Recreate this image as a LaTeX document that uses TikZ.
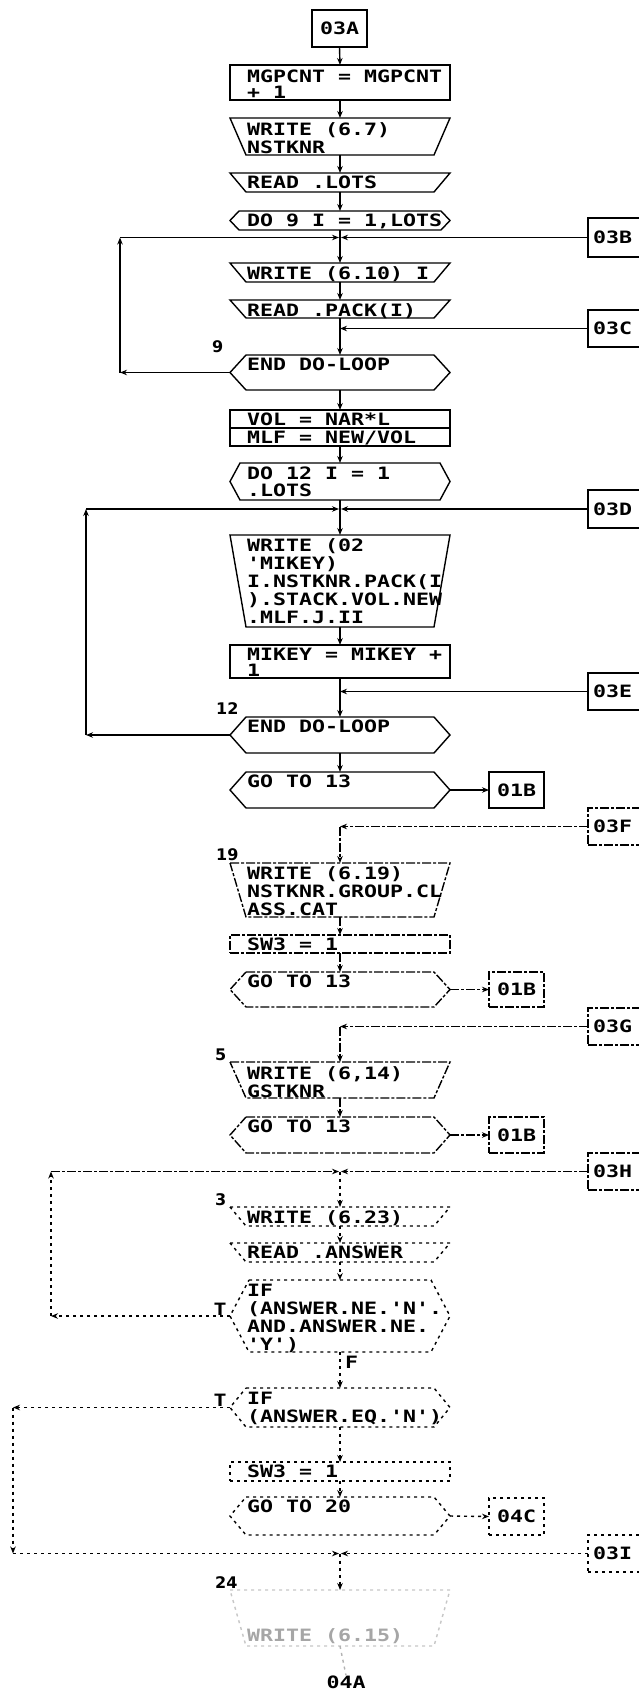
\documentclass[tikz,border=0pt]{standalone}
\usepackage{fontspec}
\usetikzlibrary{arrows.meta,calc}
\newfontfamily\plot[FakeStretch=1.27]{DejaVu Sans Mono}
\newfontfamily\lab{DejaVu Sans}
\tikzset{
 ln/.style={line width=1.4pt},
 arr/.style={ln,-{Stealth[length=7pt,width=5.5pt]}},
 sh/.style={inner sep=0pt,outer sep=0pt,minimum width=220pt},
 rbox/.style={sh,draw,ln},
 cbox/.style={inner sep=0pt,outer sep=0pt,draw,ln,minimum width=56pt,minimum height=37pt},
 obox/.style={inner sep=0pt,outer sep=0pt,draw,ln,minimum width=55pt,minimum height=36pt,font=\plot\bfseries\fontsize{17}{18}\selectfont},
 txt/.style={inner sep=0pt,align=left,anchor=north west,font=\plot\bfseries\fontsize{17}{18}\selectfont},
 ctxt/.style={inner sep=0pt,anchor=west,font=\plot\bfseries\fontsize{17}{18}\selectfont},
 lbl/.style={inner sep=0pt,anchor=south west,font=\lab\bfseries\fontsize{16}{16}\selectfont},
 low/.style={dash pattern=on 9pt off 2pt on 3pt off 2pt},
 fade/.style={dash pattern=on 3pt off 4pt},
}
\newcommand\trap[2][]{\draw[ln,#1] (#2.north west) -- (#2.north east) -- ([xshift=-16pt]#2.south east) -- ([xshift=16pt]#2.south west) -- cycle;}
\newcommand\hexa[3][]{\draw[ln,#1] ([xshift=#3]#2.north west) -- ([xshift=-#3]#2.north east) -- (#2.east) -- ([xshift=-#3]#2.south east) -- ([xshift=#3]#2.south west) -- (#2.west) -- cycle;}
\newcommand\tx[3][-4pt]{\node[txt] (#2-t) at ([xshift=17pt,yshift=#1]#2.north west) {#3};}
\begin{document}
\begin{tikzpicture}[x=1pt,y=1pt]
\useasboundingbox (0,0) rectangle (639,-1691);
\clip (0,0) rectangle (639,-1691);
% ---------- shapes ----------
\node[obox,minimum height=37pt] (a03) at (339.5,-28.5) {03A};
\node[rbox,minimum height=35pt] (mg) at (340,-82.5) {};
\tx[-5pt]{mg}{MGPCNT = MGPCNT\\[-2.5pt]+ 1}
\node[sh,minimum height=37pt] (w67) at (340,-136.5) {}; \trap{w67}
\tx{w67}{WRITE (6.7)\\NSTKNR}
\node[sh,minimum height=19pt] (rl) at (340,-182.5) {}; \trap{rl}
\tx[-3pt]{rl}{READ .LOTS}
\node[sh,minimum height=19pt] (do9) at (340,-220.5) {}; \hexa{do9}{9pt}
\tx[-3pt]{do9}{DO 9 I = 1,LOTS}
\node[sh,minimum height=19pt] (w610) at (340,-272.5) {}; \trap{w610}
\tx[-3pt]{w610}{WRITE (6.10) I}
\node[sh,minimum height=18pt] (rp) at (340,-309) {}; \trap{rp}
\tx[-3pt]{rp}{READ .PACK(I)}
\node[sh,minimum height=35pt] (e9) at (340,-372.5) {}; \hexa{e9}{16pt}
\tx[-3pt]{e9}{END DO-LOOP}
\node[rbox,minimum height=18pt] (vol) at (340,-419) {};
\tx[-3pt]{vol}{VOL = NAR*L}
\node[rbox,minimum height=18pt] (mlf) at (340,-437) {};
\tx[-3pt]{mlf}{MLF = NEW/VOL}
\node[sh,minimum height=37pt] (do12) at (340,-481.5) {}; \hexa{do12}{10pt}
\tx[-3.5pt]{do12}{DO 12 I = 1\\[-1pt].LOTS}
\node[sh,minimum height=92pt] (w02) at (340,-581) {}; \trap{w02}
\tx[-3pt]{w02}{WRITE (02\\'MIKEY)\\I.NSTKNR.PACK(I\\).STACK.VOL.NEW\\.MLF.J.II}
\node[rbox,minimum height=33pt] (mk) at (340,-661.5) {};
\tx[-3pt]{mk}{MIKEY = MIKEY +\\[-2pt]1}
\node[sh,minimum height=36pt] (e12) at (340,-735) {}; \hexa{e12}{16pt}
\tx[-3pt]{e12}{END DO-LOOP}
\node[sh,minimum height=36pt] (g1) at (340,-790) {}; \hexa{g1}{16pt}
\tx[-3pt]{g1}{GO TO 13}
\node[obox] (o1) at (516.5,-790) {01B};
% lower, faded part
\node[sh,minimum height=54pt] (w19) at (340,-890) {}; \trap[low]{w19}
\tx[-3pt]{w19}{WRITE (6.19)\\NSTKNR.GROUP.CL\\ASS.CAT}
\node[rbox,low,minimum height=18pt] (sw1) at (340,-944) {};
\tx[-3pt]{sw1}{SW3 = 1}
\node[sh,minimum height=35pt] (g2) at (340,-989.5) {}; \hexa[low]{g2}{16pt}
\tx[-3pt]{g2}{GO TO 13}
\node[obox,low,minimum height=35pt] (o2) at (516.5,-989.5) {01B};
\node[sh,minimum height=36pt] (w14) at (340,-1080) {}; \trap[low]{w14}
\tx{w14}{WRITE (6,14)\\GSTKNR}
\node[sh,minimum height=36pt] (g3) at (340,-1135) {}; \hexa[low]{g3}{16pt}
\tx[-3pt]{g3}{GO TO 13}
\node[obox,low] (o3) at (516.5,-1135) {01B};
\node[sh,minimum height=19pt] (w23) at (340,-1216.5) {}; \trap[fade]{w23}
\tx[-3pt]{w23}{WRITE (6.23)}
\node[sh,minimum height=19pt] (ra) at (340,-1252.5) {}; \trap[fade]{ra}
\tx[-3pt]{ra}{READ .ANSWER}
\node[sh,minimum height=72pt] (if1) at (340,-1316) {}; \hexa[fade]{if1}{19pt}
\tx{if1}{IF\\(ANSWER.NE.'N'.\\AND.ANSWER.NE.\\'Y')}
\node[sh,minimum height=39pt] (if2) at (340,-1407.5) {}; \hexa[fade]{if2}{16pt}
\tx{if2}{IF\\(ANSWER.EQ.'N')}
\node[rbox,fade,minimum height=19pt] (sw2) at (340,-1471.5) {};
\tx[-3pt]{sw2}{SW3 = 1}
\node[sh,minimum height=38pt] (g4) at (340,-1516) {}; \hexa[fade]{g4}{16pt}
\tx[-3pt]{g4}{GO TO 20}
\node[obox,fade,minimum height=37pt] (o4) at (516.5,-1516.5) {04C};
\node[sh,minimum height=56pt] (w15) at (340,-1618) {}; \trap[draw=gray!45,fade]{w15}
\node[txt,text=gray!70] (w15-t) at ([xshift=17pt,yshift=-38pt]w15.north west) {WRITE (6.15)};
\node[ctxt,anchor=center] (a04) at (346,-1682) {04A};
% ---------- off-page connectors on the right ----------
\node[cbox,minimum height=39pt] (c3b) at (616,-237.5) {};
\node[ctxt] (c3b-t) at ([xshift=5pt]c3b.west) {03B};
\node[cbox] (c3c) at (616,-328.5) {};
\node[ctxt] (c3c-t) at ([xshift=5pt]c3c.west) {03C};
\node[cbox,minimum height=38pt] (c3d) at (616,-509) {};
\node[ctxt] (c3d-t) at ([xshift=5pt]c3d.west) {03D};
\node[cbox] (c3e) at (616,-691.5) {};
\node[ctxt] (c3e-t) at ([xshift=5pt]c3e.west) {03E};
\node[cbox,low] (c3f) at (616,-826.5) {};
\node[ctxt] (c3f-t) at ([xshift=5pt]c3f.west) {03F};
\node[cbox,low] (c3g) at (616,-1026.5) {};
\node[ctxt] (c3g-t) at ([xshift=5pt]c3g.west) {03G};
\node[cbox,low] (c3h) at (616,-1171.5) {};
\node[ctxt] (c3h-t) at ([xshift=5pt]c3h.west) {03H};
\node[cbox,fade] (c3i) at (616,-1553.5) {};
\node[ctxt] (c3i-t) at ([xshift=5pt]c3i.west) {03I};
% ---------- statement labels ----------
\node[lbl] (l9) at (212,-353) {9};
\node[lbl] (l12) at (216,-715) {12};
\node[lbl] (l19) at (216,-861) {19};
\node[lbl] (l5) at (215,-1061) {5};
\node[lbl] (l3) at (215,-1206) {3};
\node[lbl] (l24) at (215,-1589) {24};
\node[ctxt,anchor=south] (t1) at (220,-1316) {T};
\node[ctxt,anchor=south] (t2) at (220,-1406.5) {T};
\node[ctxt] (f1) at (345,-1362) {F};
% ---------- flow, top ----------
\draw[arr] (a03.south) -- (mg.north);
\draw[arr] (mg.south) -- (w67.north);
\draw[arr] (w67.south) -- (rl.north);
\draw[arr] (rl.south) -- (do9.north);
\coordinate (m9) at (340,-237.5);
\draw[ln] (do9.south) -- (m9);
\draw[arr] (m9) -- (w610.north);
\coordinate (l9b) at (120,-372.5);
\coordinate (l9t) at (120,-237.5);
\draw[arr] (e9.west) -- (l9b);
\draw[arr] (l9b) -- (l9t);
\draw[arr] (l9t) -- ([xshift=-1pt]m9);
\draw[arr] (c3b.west) -- ([xshift=1pt]m9);
\draw[arr] (w610.south) -- (rp.north);
\coordinate (m9c) at (340,-328.5);
\draw[ln] (rp.south) -- (m9c);
\draw[arr] (c3c.west) -- (m9c);
\draw[arr] (m9c) -- (e9.north);
\draw[arr] (e9.south) -- (vol.north);
\draw[arr] (mlf.south) -- (do12.north);
\coordinate (m12) at (340,-509);
\draw[ln] (do12.south) -- (m12);
\draw[arr] (m12) -- (w02.north);
\coordinate (l12b) at (86,-735);
\coordinate (l12t) at (86,-509);
\draw[arr] (e12.west) -- (l12b);
\draw[arr] (l12b) -- (l12t);
\draw[arr] (l12t) -- ([xshift=-1pt]m12);
\draw[arr] (c3d.west) -- ([xshift=1pt]m12);
\draw[arr] (w02.south) -- (mk.north);
\coordinate (m12e) at (340,-691.5);
\draw[ln] (mk.south) -- (m12e);
\draw[arr] (c3e.west) -- (m12e);
\draw[arr] (m12e) -- (e12.north);
\draw[arr] (e12.south) -- (g1.north);
\draw[arr] (g1.east) -- (o1.west);
% ---------- flow, lower ----------
\coordinate (mf) at (340,-826.5);
\draw[arr,low] (c3f.west) -- (mf);
\draw[arr,low] (mf) -- (w19.north);
\draw[arr,low] (w19.south) -- (sw1.north);
\draw[arr,low] (sw1.south) -- (g2.north);
\draw[arr,low] (g2.east) -- (o2.west);
\coordinate (m5) at (340,-1026.5);
\draw[arr,low] (c3g.west) -- (m5);
\draw[arr,low] (m5) -- (w14.north);
\draw[arr,low] (w14.south) -- (g3.north);
\draw[arr,low] (g3.east) -- (o3.west);
\coordinate (m3) at (340,-1171.5);
\draw[arr,low] (c3h.west) -- ([xshift=1pt]m3);
\coordinate (l3b) at (51,-1316);
\coordinate (l3t) at (51,-1171.5);
\draw[arr,fade] (if1.west) -- (l3b);
\draw[arr,fade] (l3b) -- (l3t);
\draw[arr,low] (l3t) -- ([xshift=-1pt]m3);
\draw[arr,fade] (m3) -- (w23.north);
\draw[arr,fade] (w23.south) -- (ra.north);
\draw[arr,fade] (ra.south) -- (if1.north);
\draw[arr,fade] (if1.south) -- (if2.north);
\coordinate (m24) at (340,-1553.5);
\coordinate (l24t) at (13,-1407.5);
\coordinate (l24b) at (13,-1553.5);
\draw[arr,fade] (if2.west) -- (l24t);
\draw[arr,fade] (l24t) -- (l24b);
\draw[arr,fade] (l24b) -- ([xshift=-1pt]m24);
\draw[arr,fade] (c3i.west) -- ([xshift=1pt]m24);
\draw[arr,fade] (if2.south) -- (sw2.north);
\draw[arr,fade] (sw2.south) -- (g4.north);
\draw[arr,fade] (g4.east) -- (o4.west);
\draw[arr,fade] (m24) -- (w15.north);
\draw[ln,fade,draw=gray!60] (w15.south) -- (a04.north);
\end{tikzpicture}
\end{document}
